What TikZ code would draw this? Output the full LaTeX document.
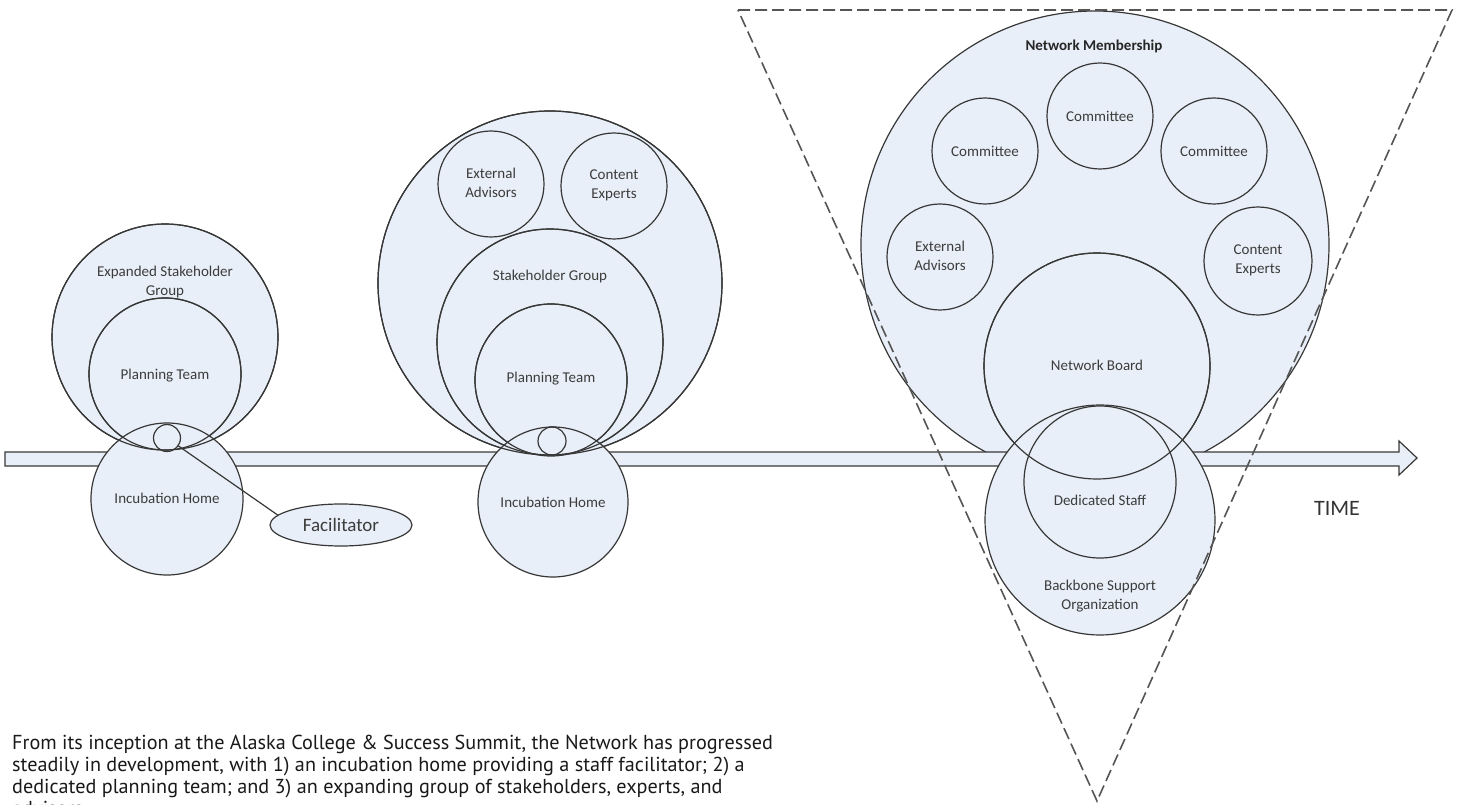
\documentclass[tikz,border=0pt]{standalone}
\usepackage{fontspec}
\setmainfont{Carlito}
\newfontfamily\capfont{PT Sans}
\usetikzlibrary{shapes.geometric}
\definecolor{cfill}{RGB}{233,239,248}
\definecolor{cline}{RGB}{55,55,55}
\definecolor{ctext}{RGB}{60,60,60}
\definecolor{cdash}{RGB}{85,85,85}
\begin{document}
\begin{tikzpicture}[x=1pt,y=-1pt,
  circ/.style={circle, draw=cline, fill=cfill, line width=1.2pt, inner sep=0pt, outer sep=0pt, minimum size=#1},
  outl/.style={draw=cline, line width=1.2pt},
  lbl/.style={font=\fontsize{15}{19}\selectfont, text=ctext, align=center, inner sep=0pt},
  dashline/.style={draw=cdash, line width=1.6pt, dash pattern=on 12pt off 5pt},
]
\useasboundingbox (0,0) rectangle (1460,805);
\clip (0,0) rectangle (1460,805);
% ---------- upper circles
% left group
\node[circ=226pt] (esg) at (165,337) {};
\node[circ=152pt] (lpt) at (165,374) {};
\node[circ=27pt] (lfs) at (167,438) {};
% middle group
\node[circ=344pt] (mbig) at (550,283) {};
\node[circ=106pt] (mea) at (491,184) {};
\node[circ=106pt] (mce) at (614,186) {};
\node[circ=226pt] (msg) at (550,342) {};
\node[circ=152pt] (mpt) at (551,380) {};
\node[circ=28pt] (mfs) at (552,441) {};
% right group
\node[circ=468pt] (nm) at (1095,245) {};
\node[circ=106pt] (c1) at (1100,116) {};
\node[circ=106pt] (c2) at (985,151) {};
\node[circ=106pt] (c3) at (1214,151) {};
\node[circ=106pt] (rea) at (940,257) {};
\node[circ=108pt] (rce) at (1258,261) {};
\node[circ=226pt] (nb) at (1097,366) {};
% ---------- time arrow
\coordinate (tstart) at (5,459);
\coordinate (ttip) at (1417,458);
\draw[outl, fill=cfill, line join=miter]
  (tstart) ++(0,-7) -- (1399,452) -- (1399,441) -- (ttip) -- (1399,475) -- (1399,466) -- (5,466) -- cycle;
% ---------- lower circles
\node[circ=152pt] (lih) at (167,499) {};
\draw[outl] (esg.center) circle[radius=113pt];
\draw[outl] (lpt.center) circle[radius=76pt];
\draw[outl] (lfs.center) circle[radius=13.5pt];
\node[circ=150pt] (mih) at (553,502) {};
\draw[outl] (mbig.center) circle[radius=172pt];
\draw[outl] (msg.center) circle[radius=113pt];
\draw[outl] (mpt.center) circle[radius=76pt];
\draw[outl] (mfs.center) circle[radius=14pt];
\node[circ=230pt] (bso) at (1100,520) {};
\node[circ=152pt] (ds) at (1100,482) {};
\draw[outl] (nb.center) circle[radius=113pt];
% ---------- facilitator
\node[ellipse, draw=cline, fill=cfill, line width=1.2pt, minimum width=142pt, minimum height=42pt,
      inner sep=0pt, font=\fontsize{19}{22}\selectfont, text=ctext] (fac) at (341,525) {Facilitator};
\draw[outl] (fac.171) -- (lfs);
% ---------- labels
\node[lbl] (l1) at (165,282) {Expanded Stakeholder\\Group};
\node[lbl] (l2) at (165,376) {Planning Team};
\node[lbl] (l3) at (167,498) {Incubation Home};
\node[lbl] (m1) at (491,183) {External\\Advisors};
\node[lbl] (m2) at (614,185) {Content\\Experts};
\node[lbl] (m3) at (550,277) {Stakeholder Group};
\node[lbl] (m4) at (551,379) {Planning Team};
\node[lbl] (m5) at (553,502) {Incubation Home};
\node[lbl, font=\bfseries\fontsize{15}{19}\selectfont, text=black!85] (r0) at (1094,46) {Network Membership};
\node[lbl] (r1) at (1100,116) {Committee};
\node[lbl] (r2) at (985,151) {Committee};
\node[lbl] (r3) at (1214,151) {Committee};
\node[lbl] (r4) at (940,256) {External\\Advisors};
\node[lbl] (r5) at (1258,260) {Content\\Experts};
\node[lbl] (r6) at (1097,365) {Network Board};
\node[lbl] (r7) at (1100,500) {Dedicated Staff};
\node[lbl] (r8) at (1100,596) {Backbone Support\\Organization};
\node[font=\fontsize{22}{26}\selectfont, text=black!80, inner sep=0pt] (time) at (1337,508) {TIME};
% ---------- dashed triangle
\coordinate (t1) at (738,10);
\coordinate (t2) at (1452,10);
\coordinate (t3) at (1097,801);
\draw[dashline] (t1) -- (t2) -- (t3) -- cycle;
% ---------- caption
\node[anchor=north west, align=left, inner sep=0pt, font=\capfont\fontsize{20.2}{22}\selectfont, text=black!90] (cap) at (12,735)
  {From its inception at the Alaska College \& Success Summit, the Network has progressed\\
   steadily in development, with 1) an incubation home providing a staff facilitator; 2) a\\
   dedicated planning team; and 3) an expanding group of stakeholders, experts, and\\
   advisors};
\end{tikzpicture}
\end{document}
